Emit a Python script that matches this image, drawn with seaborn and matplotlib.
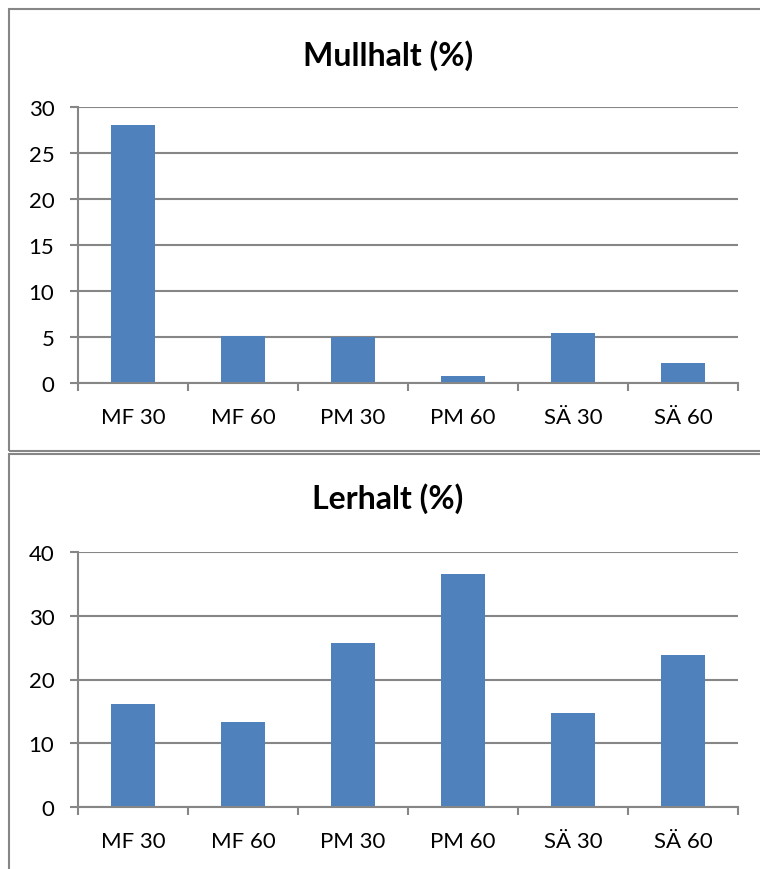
import matplotlib
matplotlib.use("Agg")
import matplotlib.pyplot as plt
import seaborn as sns
import pandas as pd
from matplotlib.patches import Rectangle

categories = ["MF 30", "MF 60", "PM 30", "PM 60", "SÄ 30", "SÄ 60"]
mullhalt = [28.0, 5.15, 5.05, 0.8, 5.45, 2.15]
lerhalt = [16.2, 13.3, 25.8, 36.6, 14.7, 23.9]
titles = ["Mullhalt (%)", "Lerhalt (%)"]
mull_ticks = [0, 5, 10, 15, 20, 25, 30]
ler_ticks = [0, 10, 20, 30, 40]

sns.set_style("white")
plt.rcParams["font.family"] = ["Lato", "DejaVu Sans"]

BAR = "#4F81BD"
GRID = "#868686"

W, H = 760, 870
fig = plt.figure(figsize=(W / 100, H / 100), dpi=100)

def fx(x):
    return x / W

def fy(y):
    return 1 - y / H

# frames
fig.patches.append(Rectangle((fx(8.5), fy(451.5)), fx(800), fy(9.5) - fy(451.5),
                             transform=fig.transFigure, fill=False,
                             edgecolor=GRID, linewidth=1.5, zorder=0))
fig.patches.append(Rectangle((fx(8.5), fy(900)), fx(800), fy(454.5) - fy(900),
                             transform=fig.transFigure, fill=False,
                             edgecolor=GRID, linewidth=1.5, zorder=0))

panels = [
    (mullhalt, mull_ticks, titles[0], 108, 384, 56),
    (lerhalt, ler_ticks, titles[1], 553, 808, 499),
]

for vals, ticks, title, ytop, ybot, ytitle in panels:
    ax = fig.add_axes([fx(78), fy(ybot), fx(738) - fx(78), fy(ytop) - fy(ybot)])
    df = pd.DataFrame({"cat": categories, "val": vals})
    sns.barplot(data=df, x="cat", y="val", ax=ax, color=BAR, width=0.4,
                saturation=1, edgecolor="none", zorder=3)
    ax.set_xlim(-0.5, len(categories) - 0.5)
    ax.set_ylim(ticks[0], ticks[-1])
    ax.set_yticks(ticks)
    ax.set_yticklabels([str(t) for t in ticks])
    ax.set_xlabel("")
    ax.set_ylabel("")
    for s in ["top", "right"]:
        ax.spines[s].set_visible(False)
    for s in ["left", "bottom"]:
        ax.spines[s].set_color(GRID)
        ax.spines[s].set_linewidth(1.5)
        ax.spines[s].set_zorder(4)
    ax.yaxis.grid(True, color=GRID, linewidth=1.5, zorder=1)
    ax.set_axisbelow(True)
    ax.tick_params(axis="y", which="major", direction="out", length=6,
                   width=1.5, color=GRID, labelsize=16, pad=11,
                   left=True, labelcolor="black")
    ax.tick_params(axis="x", which="major", length=0, labelsize=16, pad=17,
                   labelcolor="black")
    ax.set_xticks([i - 0.5 for i in range(len(categories) + 1)], minor=True)
    ax.tick_params(axis="x", which="minor", direction="out", length=6,
                   width=1.5, color=GRID, bottom=True)
    fig.text(fx(388), fy(ytitle), title, ha="center", va="center",
             fontsize=23, fontweight="bold", color="black")

fig.savefig("out.png", dpi=100, facecolor="white")
